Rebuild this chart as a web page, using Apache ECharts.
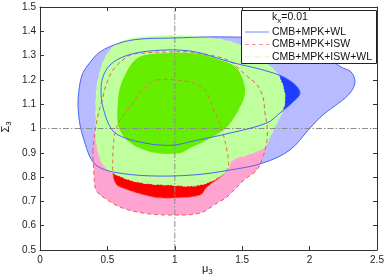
<!DOCTYPE html>
<html><head><meta charset="utf-8">
<script src="https://cdn.jsdelivr.net/npm/echarts@6/dist/echarts.min.js"></script>
<style>html,body{margin:0;padding:0;background:#fff}#c{width:388px;height:277px}</style>
</head><body><div id="c"></div>
<script>
// Axis ticks
const xTicks = [0, 0.5, 1, 1.5, 2, 2.5];
const yTicks = [0.5, 0.6, 0.7, 0.8, 0.9, 1, 1.1, 1.2, 1.3, 1.4, 1.5];
const crossX = [1];
const crossY = [1];
const legendTitle = 'k_x=0.01';
const seriesNames = ['CMB+MPK+WL', 'CMB+MPK+ISW', 'CMB+MPK+ISW+WL'];

// Contours (mu3, Sigma3)
const blueOuter = [[0.371,0.883],[0.326,0.953],[0.297,1.014],[0.282,1.097],[0.289,1.158],[0.312,1.220],[0.356,1.261],[0.445,1.315],[0.593,1.352],[0.742,1.368],[0.964,1.372],[1.335,1.377],[1.706,1.368],[1.958,1.335],[2.129,1.294],[2.233,1.253],[2.307,1.233],[2.337,1.191],[2.300,1.146],[2.226,1.109],[2.099,1.056],[2.003,1.002],[1.855,0.912],[1.654,0.858],[1.409,0.829],[1.142,0.809],[0.816,0.805],[0.542,0.821],[0.423,0.846]];
const blueInner = [[0.453,1.158],[0.467,1.088],[0.534,0.994],[0.631,0.961],[0.779,0.940],[0.890,0.932],[1.001,0.932],[1.142,0.949],[1.409,0.981],[1.684,1.023],[1.780,1.064],[1.869,1.105],[1.929,1.146],[1.869,1.191],[1.728,1.229],[1.409,1.274],[1.113,1.319],[0.816,1.319],[0.631,1.298],[0.519,1.261],[0.467,1.212]];
const redOuter = [[0.393,0.912],[0.400,0.820],[0.408,0.759],[0.430,0.735],[0.467,0.718],[0.593,0.677],[0.764,0.652],[0.964,0.644],[1.187,0.652],[1.313,0.693],[1.387,0.718],[1.513,0.788],[1.610,0.830],[1.654,0.883],[1.684,0.950],[1.684,1.014],[1.669,1.064],[1.654,1.130],[1.610,1.180],[1.543,1.212],[1.484,1.241],[1.409,1.278],[1.261,1.302],[1.113,1.315],[0.964,1.315],[0.779,1.311],[0.668,1.302],[0.600,1.275],[0.542,1.241],[0.490,1.180],[0.467,1.130],[0.423,1.035]];
const redInner = [[0.868,1.200],[1.113,1.191],[1.224,1.158],[1.298,1.064],[1.350,0.994],[1.395,0.883],[1.395,0.840],[1.358,0.810],[1.239,0.759],[1.187,0.726],[0.987,0.714],[0.838,0.718],[0.593,0.759],[0.560,0.775],[0.542,0.809],[0.542,0.912],[0.556,0.981],[0.593,1.035],[0.690,1.105],[0.779,1.167]];
const greenOuter = [[0.415,1.035],[0.415,0.953],[0.460,0.858],[0.542,0.817],[0.720,0.780],[0.964,0.767],[1.187,0.767],[1.372,0.817],[1.432,0.870],[1.558,0.895],[1.669,0.924],[1.706,0.965],[1.758,1.023],[1.803,1.076],[1.818,1.130],[1.795,1.187],[1.758,1.228],[1.677,1.270],[1.595,1.302],[1.447,1.352],[1.187,1.377],[0.890,1.381],[0.668,1.368],[0.556,1.344],[0.482,1.290],[0.430,1.200],[0.415,1.117]];
const greenInner = [[0.579,1.117],[0.579,1.014],[0.631,0.961],[0.720,0.924],[0.868,0.899],[1.039,0.899],[1.113,0.920],[1.239,0.953],[1.387,1.006],[1.484,1.088],[1.521,1.146],[1.506,1.200],[1.447,1.255],[1.335,1.282],[1.187,1.307],[0.964,1.311],[0.779,1.302],[0.690,1.274],[0.631,1.220],[0.593,1.167]];

const FONT = 'Liberation Sans, Arial, Helvetica, sans-serif';

function poly(pts, style, smooth) {
  return {
    type: 'custom', coordinateSystem: 'cartesian2d', data: pts, silent: true, animation: false, clip: true,
    encode: { x: 0, y: 1 },
    renderItem: function (params, api) {
      if (params.dataIndex !== 0) return null;
      return { type: 'polygon', shape: { points: pts.map(p => api.coord(p)), smooth: smooth }, style: style };
    }
  };
}
function cross() {
  return {
    type: 'custom', coordinateSystem: 'cartesian2d', data: [0], silent: true, animation: false,
    renderItem: function (params, api) {
      const ch = [];
      const st = { stroke: '#8c8c8c', lineWidth: 1, lineDash: [6, 2, 1.5, 2] };
      crossX.forEach(v => { const a = api.coord([v, yTicks[0]]), b = api.coord([v, yTicks[yTicks.length-1]]); ch.push({ type: 'line', shape: { x1: a[0], y1: a[1], x2: b[0], y2: b[1] }, style: st }); });
      crossY.forEach(v => { const a = api.coord([xTicks[0], v]), b = api.coord([xTicks[xTicks.length-1], v]); ch.push({ type: 'line', shape: { x1: a[0], y1: a[1], x2: b[0], y2: b[1] }, style: st }); });
      return { type: 'group', children: ch };
    }
  };
}
const S = 0.35;
const blueLine = '#4a66f2', redLine = '#f05a5a', greenLine = '#c8ffa8';
const series = [
  poly(blueOuter, { fill: '#b8bbff' }, S),
  poly(blueInner, { fill: '#1f3dff' }, S),
  poly(redOuter, { fill: '#ffa3d0' }, S),
  poly(redInner, { fill: '#ff0000' }, S),
  poly(greenOuter, { fill: '#bfff9e' }, S),
  poly(greenInner, { fill: '#66ee00' }, S),
  cross(),
  poly(greenOuter, { fill: 'none', stroke: greenLine, lineWidth: 1, lineDash: [5, 2, 1, 2] }, S),
  poly(redOuter, { fill: 'none', stroke: redLine, lineWidth: 1, lineDash: [4, 3] }, S),
  poly(redInner, { fill: 'none', stroke: '#e8744f', lineWidth: 1, lineDash: [4, 3] }, S),
  poly(blueOuter, { fill: 'none', stroke: blueLine, lineWidth: 1 }, S),
  poly(blueInner, { fill: 'none', stroke: blueLine, lineWidth: 1 }, S)
];

const axisCommon = (min, max, interval) => ({
  type: 'value', min: min, max: max, interval: interval,
  axisLine: { show: true, onZero: false, lineStyle: { color: '#333', width: 1 } },
  axisTick: { show: true, inside: true, length: 4, lineStyle: { color: '#333' } },
  splitLine: { show: false }
});
const fmt = v => String(+(+v).toFixed(1));
const xMain = Object.assign(axisCommon(xTicks[0], xTicks[xTicks.length-1], xTicks[1]-xTicks[0]), { position: 'bottom', axisLabel: { fontSize: 10, color: '#222', margin: 5, fontFamily: FONT, formatter: fmt } });
const xTop = Object.assign(axisCommon(xTicks[0], xTicks[xTicks.length-1], xTicks[1]-xTicks[0]), { position: 'top', axisLabel: { show: false } });
const yStep = +(yTicks[1]-yTicks[0]).toFixed(2);
const yMain = Object.assign(axisCommon(yTicks[0], yTicks[yTicks.length-1], yStep), { position: 'left', axisLabel: { fontSize: 10, color: '#222', margin: 4, fontFamily: FONT, formatter: fmt } });
const yRight = Object.assign(axisCommon(yTicks[0], yTicks[yTicks.length-1], yStep), { position: 'right', axisLabel: { show: false } });

const LX = 241, LY = 10, LW = 135, LH = 53;
const rowY = [32, 44.5, 57];
const legendEls = [
  { type: 'rect', shape: { x: LX + 0.5, y: LY + 0.5, width: LW, height: LH }, style: { fill: '#fff', stroke: '#222', lineWidth: 1 }, z: 100 },
  { type: 'text', x: 272, y: 17, z: 101, style: { text: '{a|k}{b|x}{a|=0.01}', verticalAlign: 'middle', rich: { a: { fontSize: 10.5, fontFamily: FONT, fill: '#111' }, b: { fontSize: 8, fontFamily: FONT, fill: '#111', padding: [7, 0, 0, 0] } } } }
];
const lineStyles = [
  { stroke: '#6f88ff', lineWidth: 1 },
  { stroke: '#ff8f8f', lineWidth: 1, lineDash: [4, 3] },
  { stroke: '#c4ffa0', lineWidth: 1.2, lineDash: [5, 2, 1, 2] }
];
seriesNames.forEach((n, i) => {
  legendEls.push({ type: 'line', z: 101, shape: { x1: 245, y1: rowY[i], x2: 269, y2: rowY[i] }, style: lineStyles[i] });
  legendEls.push({ type: 'text', z: 101, x: 272, y: rowY[i], style: { text: n, fontSize: 10.5, fontFamily: FONT, fill: '#111', verticalAlign: 'middle' } });
});

const chart = echarts.init(document.getElementById('c'), null, { renderer: 'canvas' });
chart.setOption({
  backgroundColor: '#fff',
  animation: false,
  grid: { left: 40, top: 7, right: 11, bottom: 27, containLabel: false },
  xAxis: [xMain, xTop],
  yAxis: [yMain, yRight],
  series: series,
  graphic: legendEls.concat([
    { type: 'text', x: 202, y: 262, z: 101, style: { text: '{a|μ}{b|3}', rich: { a: { fontSize: 11, fontFamily: FONT, fill: '#111' }, b: { fontSize: 8, fontFamily: FONT, fill: '#111', padding: [6, 0, 0, 0] } } } },
    { type: 'text', x: 6, y: 127, rotation: Math.PI / 2, z: 101, style: { text: '{a|Σ}{b|3}', align: 'center', verticalAlign: 'middle', rich: { a: { fontSize: 11, fontFamily: FONT, fill: '#111' }, b: { fontSize: 8, fontFamily: FONT, fill: '#111', padding: [6, 0, 0, 0] } } } }
  ])
});
</script></body></html>
